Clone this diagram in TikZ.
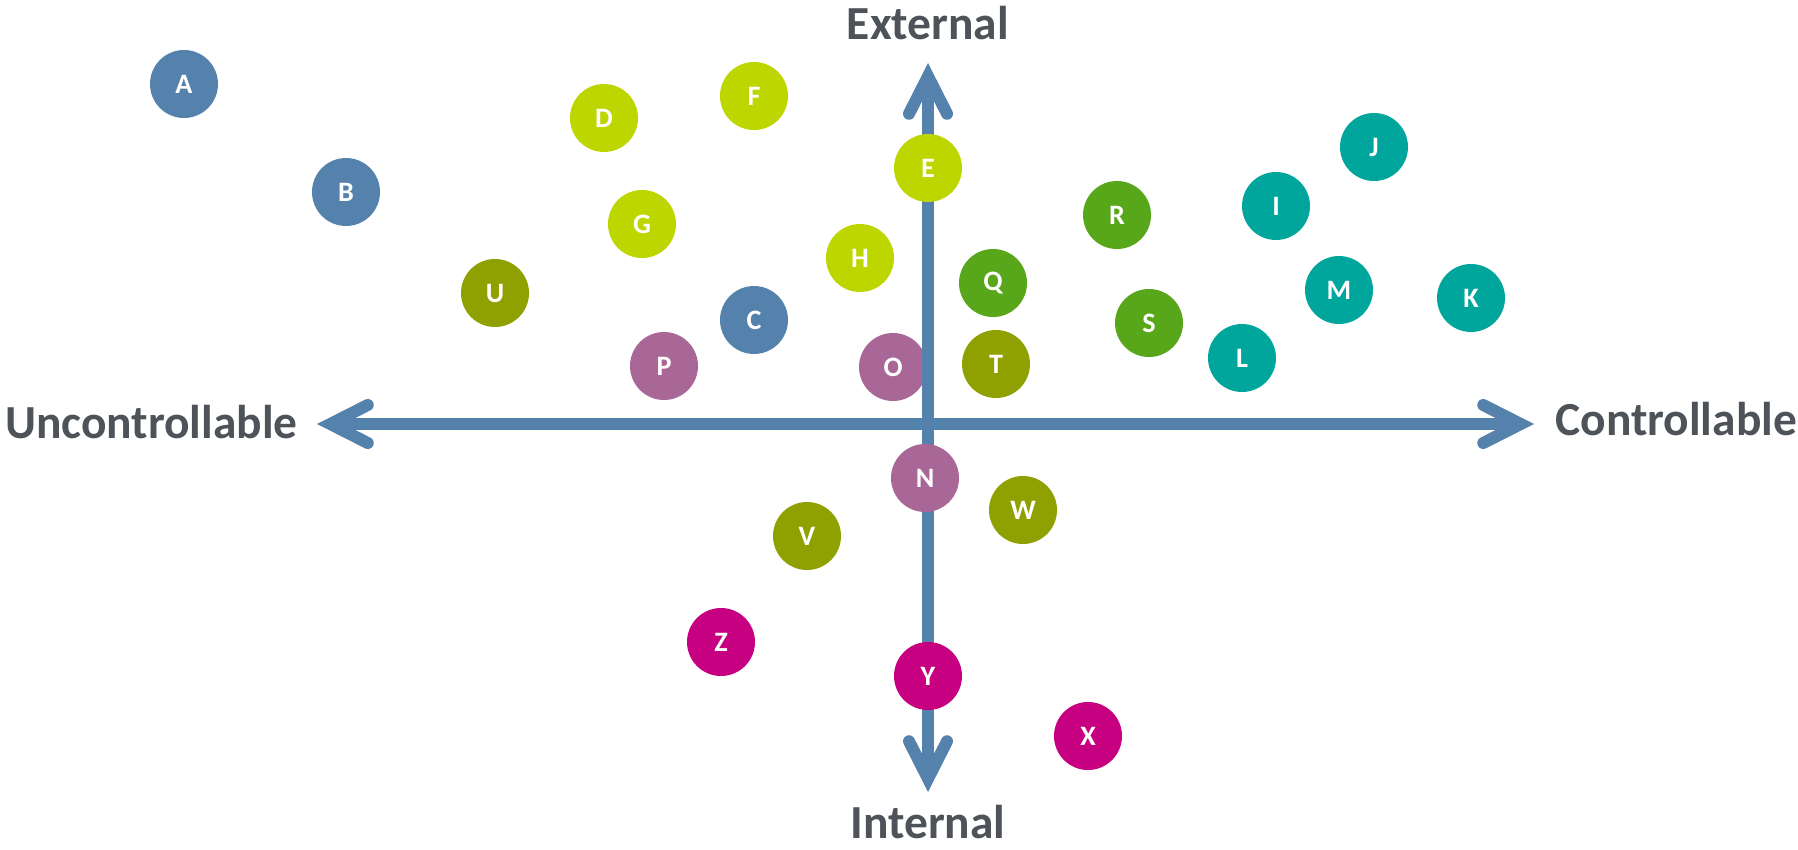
\documentclass[tikz,border=0pt]{standalone}
\usepackage{fontspec}
\setmainfont{Carlito}
\usetikzlibrary{arrows.meta}
\definecolor{azul}{RGB}{85,130,172}
\definecolor{lima}{RGB}{190,214,0}
\definecolor{oliva}{RGB}{143,161,0}
\definecolor{verde}{RGB}{88,166,26}
\definecolor{turquesa}{RGB}{0,166,156}
\definecolor{malva}{RGB}{168,103,151}
\definecolor{fucsia}{RGB}{198,0,128}
\definecolor{gristexto}{RGB}{77,83,89}
\tikzset{
  eje/.style={
    line width=2.4mm, draw=azul,
    {Straight Barb[length=7.5mm, width=7.6mm, line cap=round]}-{Straight Barb[length=7.5mm, width=7.6mm, line cap=round]}
  }
}

\begin{document}
\begin{tikzpicture}[x=0.2mm, y=-0.2mm] % coordenadas en pixeles
\tikzstyle{factor} = [circle, inner sep=0pt, minimum size=13.6mm, text=white, font=\fontsize{16}{18}\selectfont\bfseries]
\tikzstyle{titulo} = [text=gristexto, inner sep=0pt, font=\fontsize{27}{32}\selectfont\bfseries]
\useasboundingbox (0,0) rectangle (1798,850);
% Factor bajo el eje
\node (O) [factor, fill=malva] at (893,367) {O};
% Ejes
\coordinate (izq) at (317,424); \coordinate (der) at (1534,424);
\coordinate (arr) at (928,63); \coordinate (aba) at (928,792);
\draw[eje] (izq) -- (der);
\draw[eje] (aba) -- (arr);
% Titulos de los ejes
\node (ext) [titulo, anchor=base] at (928,40) {External};
\node (int) [titulo, anchor=base] at (928,838) {Internal};
\node (unc) [titulo, anchor=base east] at (298,438) {Uncontrollable};
\node (con) [titulo, anchor=base west] at (1555,435) {Controllable};
% Factores por grupo de color
\foreach \n/\x/\y in {A/184/84, B/346/192, C/754/320}{ \node (\n) [factor, fill=azul] at (\x,\y) {\n}; }
\foreach \n/\x/\y in {D/604/118, E/928/168, F/754/96, G/642/224, H/860/258}{ \node (\n) [factor, fill=lima] at (\x,\y) {\n}; }
\foreach \n/\x/\y in {Q/993/283, R/1117/215, S/1149/323}{ \node (\n) [factor, fill=verde] at (\x,\y) {\n}; }
\foreach \n/\x/\y in {I/1276/206, J/1374/147, K/1471/298, L/1242/358, M/1339/290}{ \node (\n) [factor, fill=turquesa] at (\x,\y) {\n}; }
\foreach \n/\x/\y in {T/996/364, U/495/293, V/807/536, W/1023/510}{ \node (\n) [factor, fill=oliva] at (\x,\y) {\n}; }
\foreach \n/\x/\y in {N/925/478, P/664/366}{ \node (\n) [factor, fill=malva] at (\x,\y) {\n}; }
\foreach \n/\x/\y in {X/1088/736, Y/928/676, Z/721/642}{ \node (\n) [factor, fill=fucsia] at (\x,\y) {\n}; }
\end{tikzpicture}
\end{document}
